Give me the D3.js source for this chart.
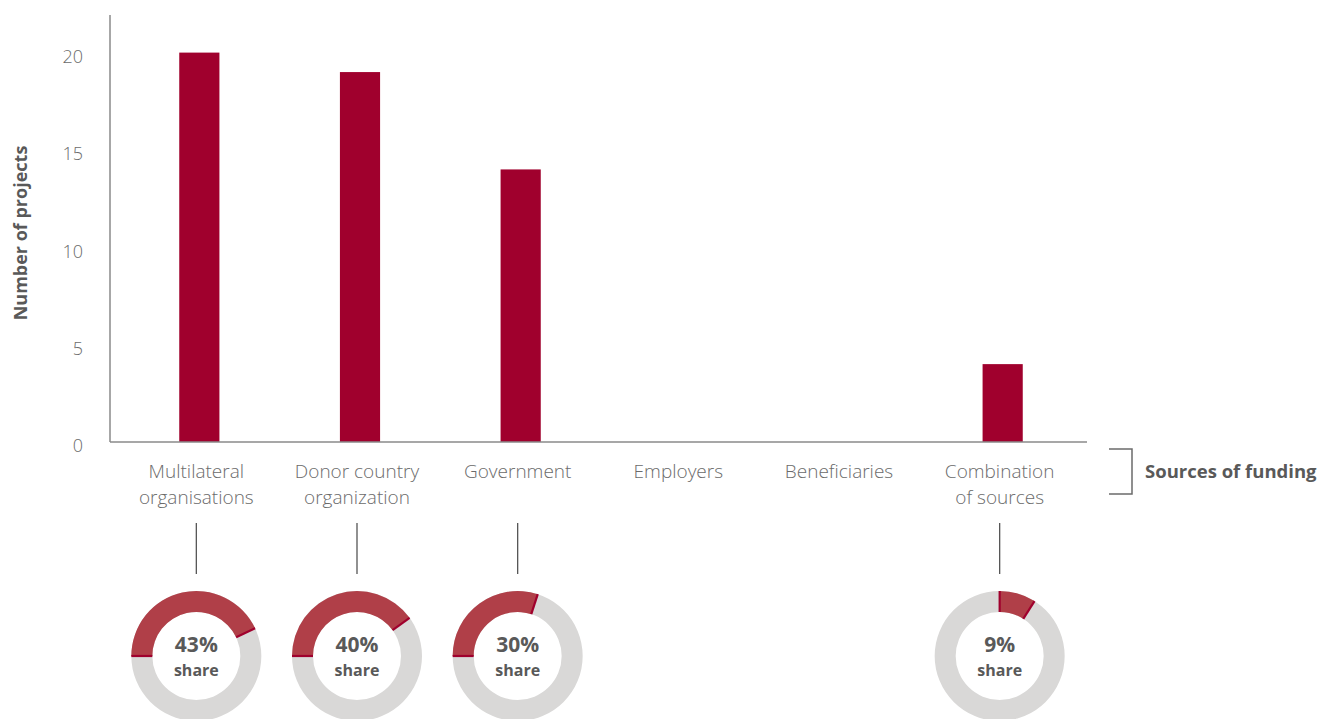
<!DOCTYPE html>
<html>
<head>
<meta charset="utf-8">
<script src="https://cdn.jsdelivr.net/npm/d3@7"></script>
<style>
  html, body { margin: 0; padding: 0; background: #fff; }
  svg { display: block; }
  text { font-family: "Open Sans", Lato, sans-serif; }
</style>
</head>
<body>
<svg id="chart" width="1320" height="719"></svg>
<script>
// Funding sources and number of projects per source
const categories = [
  ["Multilateral", "organisations"],
  ["Donor country", "organization"],
  ["Government"],
  ["Employers"],
  ["Beneficiaries"],
  ["Combination", "of sources"]
];
const projects = [20, 19, 14, 0, 0, 4];
// Share of all projects (%), shown as donuts under the funded categories
const shares = [43, 40, 30, null, null, 9];
const yTicks = [0, 5, 10, 15, 20];

const svg = d3.select("#chart");
const barColor = "#a0002d";
const arcColor = "#b03f48";
const edgeColor = "#a0002d";
const ringColor = "#d9d8d7";
const axisColor = "#8a8a8a";
const labelColor = "#6b6b6b";
const boldColor = "#595959";

const x0 = 110, x1 = 1087, yBase = 442, yTop = 15;

const x = d3.scaleBand()
  .domain(d3.range(categories.length))
  .range([119, 1083])
  .paddingInner(0.75)
  .paddingOuter(0.375);
const cx = i => x(i) + x.bandwidth() / 2;
const labelShift = -3;

const y = d3.scaleLinear().domain([0, 22]).range([yBase, yBase - 22 * 19.47]);

// Bars
svg.append("g").selectAll("rect")
  .data(projects)
  .join("rect")
  .attr("x", (d, i) => x(i))
  .attr("width", x.bandwidth())
  .attr("y", d => y(d))
  .attr("height", d => y(0) - y(d))
  .attr("fill", barColor);

// Y axis
const yAxis = svg.append("g")
  .attr("transform", `translate(${x0},0)`)
  .call(d3.axisLeft(y).tickValues(yTicks).tickSize(0).tickPadding(27));
yAxis.select(".domain").remove();
yAxis.selectAll("text")
  .attr("fill", labelColor)
  .attr("font-size", 18)
  .attr("font-weight", 300)
  .attr("dy", "0.55em")
  .style("font-family", "'Open Sans', Lato, sans-serif");

svg.append("line")
  .attr("x1", x0).attr("x2", x0)
  .attr("y1", yTop).attr("y2", yBase)
  .attr("stroke", axisColor).attr("stroke-width", 1.5);
svg.append("line")
  .attr("x1", x0).attr("x2", x1)
  .attr("y1", yBase).attr("y2", yBase)
  .attr("stroke", axisColor).attr("stroke-width", 1.5);

// Y axis title
svg.append("text")
  .attr("transform", "translate(27,233) rotate(-90)")
  .attr("text-anchor", "middle")
  .attr("fill", boldColor)
  .attr("font-size", 18)
  .attr("font-weight", 700)
  .text("Number of projects");

// Category labels
const catG = svg.append("g").selectAll("text")
  .data(categories)
  .join("text")
  .attr("text-anchor", "middle")
  .attr("fill", labelColor)
  .attr("font-size", 19)
  .attr("font-weight", 300)
  .attr("x", (d, i) => cx(i) + labelShift)
  .attr("y", 478);
catG.selectAll("tspan")
  .data(d => d)
  .join("tspan")
  .attr("x", function () { return d3.select(this.parentNode).attr("x"); })
  .attr("dy", (d, j) => j === 0 ? 0 : 26)
  .text(d => d);

// Bracket and group caption
svg.append("path")
  .attr("d", "M1109,449 H1132 V494 H1109")
  .attr("fill", "none")
  .attr("stroke", "#6b6b6b")
  .attr("stroke-width", 1.5);
svg.append("text")
  .attr("x", 1145).attr("y", 478)
  .attr("fill", boldColor)
  .attr("font-size", 18.5)
  .attr("font-weight", 700)
  .text("Sources of funding");

// Donuts
const donutStart = [-90, -90, -90, 0, 0, 0];
const rOuter = 65, rInner = 44, cy = 656;
const donutData = shares.map((s, i) => ({ s, i })).filter(d => d.s !== null);

// leader line from the label down to the donut
svg.append("g").selectAll("line")
  .data(donutData)
  .join("line")
  .attr("x1", d => cx(d.i) + labelShift)
  .attr("x2", d => cx(d.i) + labelShift)
  .attr("y1", 523).attr("y2", 574)
  .attr("stroke", "#555").attr("stroke-width", 1.3);

const dg = svg.append("g").selectAll("g")
  .data(donutData)
  .join("g")
  .attr("transform", d => `translate(${cx(d.i) + labelShift},${cy})`);

const ring = d3.arc().innerRadius(rInner).outerRadius(rOuter);
dg.append("path")
  .attr("d", ring({ startAngle: 0, endAngle: 2 * Math.PI }))
  .attr("fill", ringColor);

const rad = deg => deg * Math.PI / 180;
dg.append("path")
  .attr("d", d => {
    const a0 = rad(donutStart[d.i]);
    return ring({ startAngle: a0, endAngle: a0 + 2 * Math.PI * d.s / 100 });
  })
  .attr("fill", arcColor);

// dark edges at both ends of the share arc
dg.each(function (d) {
  const a0 = rad(donutStart[d.i]);
  const a1 = a0 + 2 * Math.PI * d.s / 100;
  const g = d3.select(this);
  [a0, a1].forEach(a => {
    g.append("line")
      .attr("x1", rInner * Math.sin(a)).attr("y1", -rInner * Math.cos(a))
      .attr("x2", rOuter * Math.sin(a)).attr("y2", -rOuter * Math.cos(a))
      .attr("stroke", edgeColor).attr("stroke-width", 2.2);
  });
});

dg.append("text")
  .attr("text-anchor", "middle")
  .attr("y", -4)
  .attr("fill", boldColor)
  .attr("font-size", 21)
  .attr("font-weight", 700)
  .text(d => d.s + "%");
dg.append("text")
  .attr("text-anchor", "middle")
  .attr("y", 19.5)
  .attr("fill", boldColor)
  .attr("font-size", 16)
  .attr("font-weight", 700)
  .text("share");
</script>
</body>
</html>
